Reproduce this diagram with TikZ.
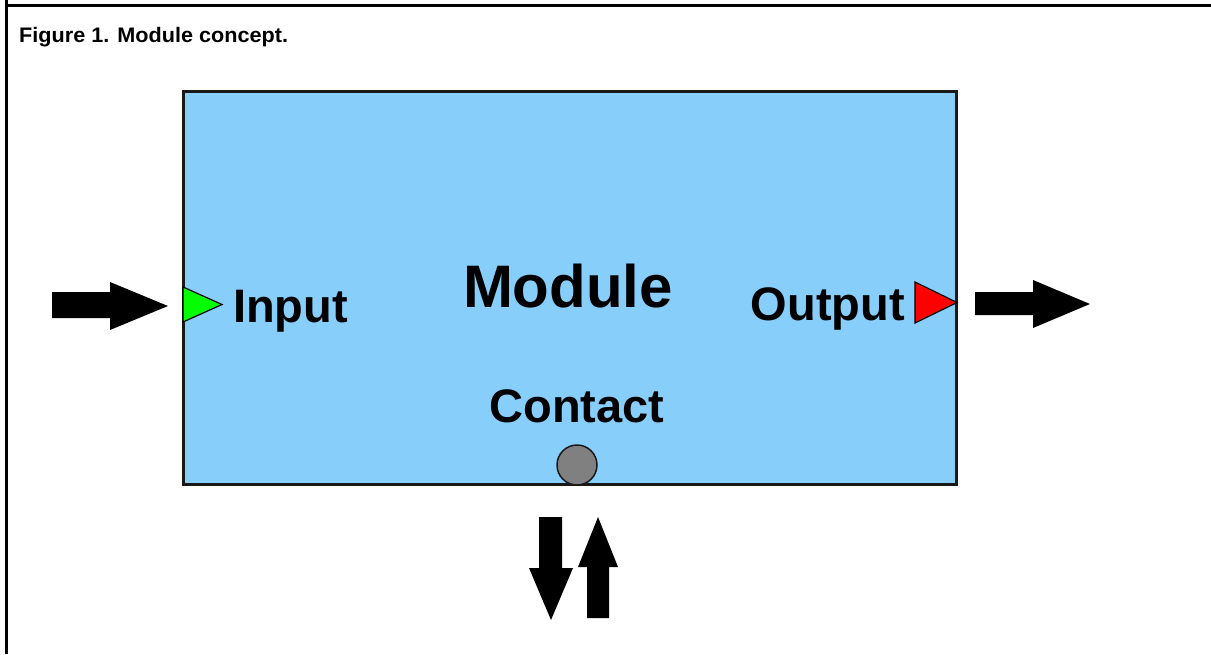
\documentclass[tikz,border=0pt]{standalone}
\usepackage{fontspec}
\setmainfont{Liberation Sans}
\begin{document}
\begin{tikzpicture}[x=1pt,y=-1pt,
  frameline/.style={line width=3pt,black},
  modulebox/.style={draw=black!90,line width=3pt,fill=boxblue,outer sep=0pt,inner sep=0pt},
  port/.style={draw=black,line width=1.2pt,line join=miter},
  blockarrow/.style={fill=black,draw=none},
  label/.style={inner sep=0pt,font=\bfseries\fontsize{47}{50}\selectfont},
  bigtitle/.style={inner sep=0pt,font=\bfseries\fontsize{60}{64}\selectfont}]
\definecolor{boxblue}{RGB}{135,206,250}
\definecolor{portgreen}{RGB}{0,255,0}
\definecolor{portred}{RGB}{255,0,0}
\definecolor{contactgray}{RGB}{128,128,128}
\useasboundingbox (0,0) rectangle (1211,654);
\fill[white] (0,0) rectangle (1211,654);

% outer frame: top and left rules
\draw[frameline] (6.5,0) -- (6.5,654);
\draw[frameline] (5,5.5) -- (1211,5.5);

% caption
\node[anchor=base west,inner sep=0pt] (caption) at (19,42)
  {\scalebox{1.03}[1]{\bfseries\fontsize{21}{24}\selectfont Figure 1. Module concept.}};

% module body
\node[modulebox,minimum width=773pt,minimum height=393pt] (module) at (570,288) {};

% labels
\node[bigtitle,anchor=base] (mtitle) at (568,307) {Module};
\node[label,anchor=base west] (inlabel) at (233,322) {Input};
\node[label,anchor=base east] (outlabel) at (905,320) {Output};
\node[label,anchor=base] (ctlabel) at (577,422) {Contact};

% ports
\coordinate (intip) at (222,304.5);
\coordinate (outtip) at (957,302.5);
\draw[port,fill=portgreen] (183,287) -- (intip) -- (183,322) -- cycle;
\draw[port,fill=portred] (915,282) -- (outtip) -- (915,323) -- cycle;
\node[circle,draw=black!90,line width=1.5pt,fill=contactgray,minimum size=40pt,inner sep=0pt]
  (contact) at (577,465) {};

% incoming arrow
\coordinate (lefttip) at (168,306);
\fill[blockarrow] (52,292) -- (110,292) -- (110,282) -- (lefttip)
  -- (110,330) -- (110,318) -- (52,318) -- cycle;

% outgoing arrow
\coordinate (righttip) at (1090,304);
\fill[blockarrow] (975,292) -- (1033,292) -- (1033,280) -- (righttip)
  -- (1033,328) -- (1033,315) -- (975,315) -- cycle;

% exchange arrows below the contact
\coordinate (downtip) at (551,620);
\fill[blockarrow] (539,517) -- (562,517) -- (562,568) -- (573,568) -- (downtip)
  -- (529,568) -- (539,568) -- cycle;
\coordinate (uptip) at (598,517);
\fill[blockarrow] (587,618) -- (609,618) -- (609,567) -- (618,567) -- (uptip)
  -- (578,567) -- (587,567) -- cycle;
\end{tikzpicture}
\end{document}
